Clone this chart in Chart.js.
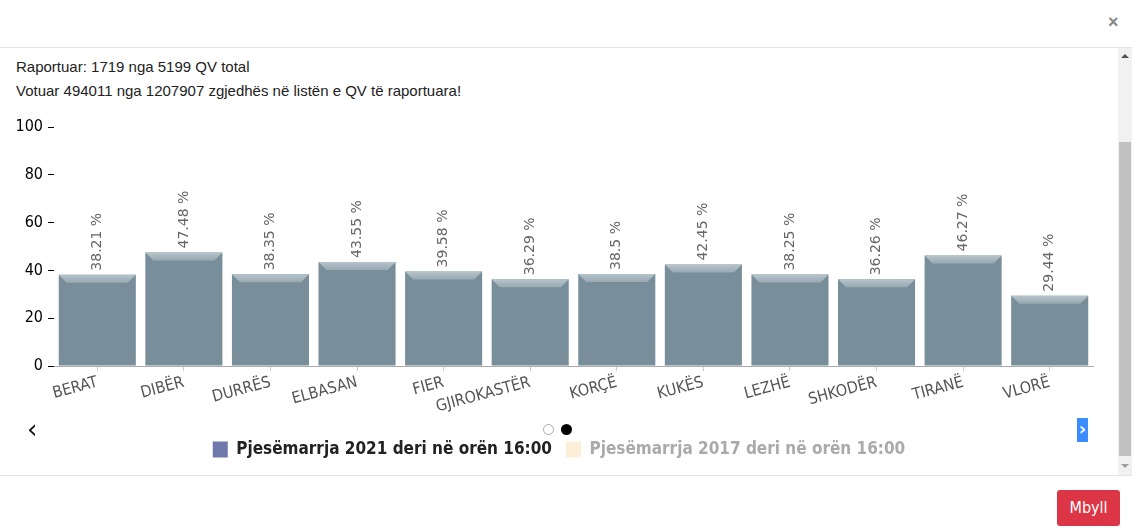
<!DOCTYPE html>
<html>
<head>
<meta charset="utf-8">
<script src="https://cdn.jsdelivr.net/npm/chart.js@4.4.0/dist/chart.umd.min.js"></script>
<style>
  html, body { margin: 0; padding: 0; background: #fff; width: 1132px; height: 531px; overflow: hidden; font-family: "Liberation Sans", Arial, sans-serif; }
  .header { position: absolute; left: 0; top: 0; width: 1132px; height: 47px; border-bottom: 1px solid #e5e5e5; }
  .close { position: absolute; left: 1108px; top: 12px; font: bold 18px "Liberation Sans", Arial; color: #888; }
  .body { position: absolute; left: 0; top: 48px; width: 1118px; height: 427px; overflow: hidden; }
  .info { position: absolute; left: 16px; font-size: 15px; color: #222; }
  .scroll { position: absolute; left: 1118px; top: 48px; width: 14px; height: 427px; background: #f1f1f1; }
  .thumb { position: absolute; left: 1px; top: 94px; width: 12px; height: 314px; background: #c1c1c1; }
  .arr { position: absolute; left: 3px; width: 0; height: 0; border-left: 4px solid transparent; border-right: 4px solid transparent; }
  .footer { position: absolute; left: 0; top: 475px; width: 1132px; height: 56px; border-top: 1px solid #e5e5e5; }
  .btn { position: absolute; left: 1057px; top: 14px; width: 63px; height: 36px; background: #dc3545; border-radius: 3px; color: #fff; font: 16px "DejaVu Sans Condensed", "DejaVu Sans", sans-serif; text-align: center; line-height: 36px; }
  #wrap { position: absolute; left: 0; top: 60px; width: 1118px; height: 360px; }
  .prev { position: absolute; left: 27px; top: 366px; font: 26px "DejaVu Sans", sans-serif; color: #111; }
  .dot { position: absolute; top: 376px; width: 11px; height: 11px; border-radius: 50%; box-sizing: border-box; }
  .next { position: absolute; left: 1077px; top: 370px; width: 11px; height: 24px; background: #3b8cff; color: #fff; font: bold 18px "DejaVu Sans", sans-serif; line-height: 22px; text-align: center; }
</style>
</head>
<body>
<div class="header"><div class="close">×</div></div>
<div class="body">
  <div class="info" style="top:10px">Raportuar: 1719 nga 5199 QV total</div>
  <div class="info" style="top:34px">Votuar 494011 nga 1207907 zgjedhës në listën e QV të raportuara!</div>
  <div id="wrap"><canvas id="myChart"></canvas></div>
  <div class="prev">‹</div>
  <div class="dot" style="left:543px;border:1px solid #aaa;background:#fff"></div>
  <div class="dot" style="left:561px;background:#000"></div>
  <div class="next">›</div>
</div>
<div class="scroll">
  <div class="arr" style="top:6px;border-bottom:4px solid #505050"></div>
  <div class="thumb"></div>
  <div class="arr" style="top:416px;border-top:4px solid #a0a0a0"></div>
</div>
<div class="footer"><div class="btn">Mbyll</div></div>

<script>
const categories = ['BERAT', 'DIBËR', 'DURRËS', 'ELBASAN', 'FIER', 'GJIROKASTËR', 'KORÇË', 'KUKËS', 'LEZHË', 'SHKODËR', 'TIRANË', 'VLORË'];
const turnout2021 = [38.21, 47.48, 38.35, 43.55, 39.58, 36.29, 38.5, 42.45, 38.25, 36.26, 46.27, 29.44];
const turnout2017 = []; // hidden series, not shown in the picture
const seriesNames = ['Pjesëmarrja 2021 deri në orën 16:00', 'Pjesëmarrja 2017 deri në orën 16:00'];

const condensed = "'DejaVu Sans Condensed', 'DejaVu Sans', sans-serif";

// bevel on top of each bar + value label above it, rotated
const barLabels = {
    id: 'barLabels',
    afterLayout(chart) {
        // centre the legend on the whole canvas, not only the padded part
        chart.legend.left = 0;
        chart.legend.right = chart.width;
    },
    afterDatasetsDraw(chart) {
        const ctx = chart.ctx;
        const meta = chart.getDatasetMeta(0);
        meta.data.forEach((bar, i) => {
            const w = bar.width;
            const left = bar.x - w / 2, right = bar.x + w / 2, top = bar.y;
            const g = ctx.createLinearGradient(0, top, 0, top + 8);
            g.addColorStop(0, '#b7c4cb');
            g.addColorStop(1, '#98a9b2');
            ctx.save();
            ctx.fillStyle = g;
            ctx.beginPath();
            ctx.moveTo(left, top);
            ctx.lineTo(right, top);
            ctx.lineTo(right - 8, top + 8);
            ctx.lineTo(left + 8, top + 8);
            ctx.closePath();
            ctx.fill();
            ctx.restore();

            ctx.save();
            ctx.translate(bar.x, top - 4);
            ctx.rotate(-Math.PI / 2);
            ctx.font = "14px 'DejaVu Sans', sans-serif";
            ctx.fillStyle = '#666';
            ctx.textAlign = 'left';
            ctx.textBaseline = 'middle';
            ctx.fillText(turnout2021[i] + ' %', 0, 0);
            ctx.restore();
        });
    }
};

let ctx = document.getElementById('myChart').getContext('2d');

let myChart = new Chart(ctx, {
    type: 'bar',
    data: {
        labels: categories,
        datasets: [{
            label: seriesNames[0],
            data: turnout2021,
            backgroundColor: '#788e9a',
            categoryPercentage: 0.89,
            barPercentage: 1
        }, {
            label: seriesNames[1],
            data: turnout2017,
            backgroundColor: '#fdeed8',
            hidden: true
        }]
    },
    options: {
        responsive: true,
        maintainAspectRatio: false,
        animation: false,
        layout: { padding: { top: 19, right: 25, left: 0, bottom: 0 } },
        scales: {
            y: {
                min: 0,
                max: 100,
                ticks: { stepSize: 20, color: '#000', padding: 5, font: { size: 16, family: condensed } },
                grid: { drawOnChartArea: false, tickLength: 6, tickColor: '#000', tickWidth: 1 },
                border: { display: false },
                afterFit(scale) { scale.width = 54; }
            },
            x: {
                ticks: { minRotation: 15, maxRotation: 15, color: '#555', padding: 2, font: { size: 16, family: condensed } },
                grid: { drawOnChartArea: false, offset: false, tickLength: 5, tickColor: '#ccc' },
                border: { color: '#aaa', width: 1 },
                afterFit(scale) { scale.height = 61; }
            }
        },
        plugins: {
            tooltip: { enabled: false },
            legend: {
                position: 'bottom',
                onClick: null,
                labels: {
                    boxWidth: 15,
                    boxHeight: 16,
                    padding: 14,
                    font: { size: 17, weight: 'bold', family: condensed },
                    generateLabels(chart) {
                        const colors = ['#6f79ab', '#fdeed8'];
                        const textColors = ['#222', '#aaa'];
                        return chart.data.datasets.map((ds, i) => ({
                            text: ds.label,
                            fillStyle: colors[i],
                            strokeStyle: colors[i],
                            lineWidth: 0,
                            fontColor: textColors[i],
                            hidden: false,
                            datasetIndex: i
                        }));
                    }
                }
            }
        }
    },
    plugins: [barLabels]
});
</script>
</body>
</html>
